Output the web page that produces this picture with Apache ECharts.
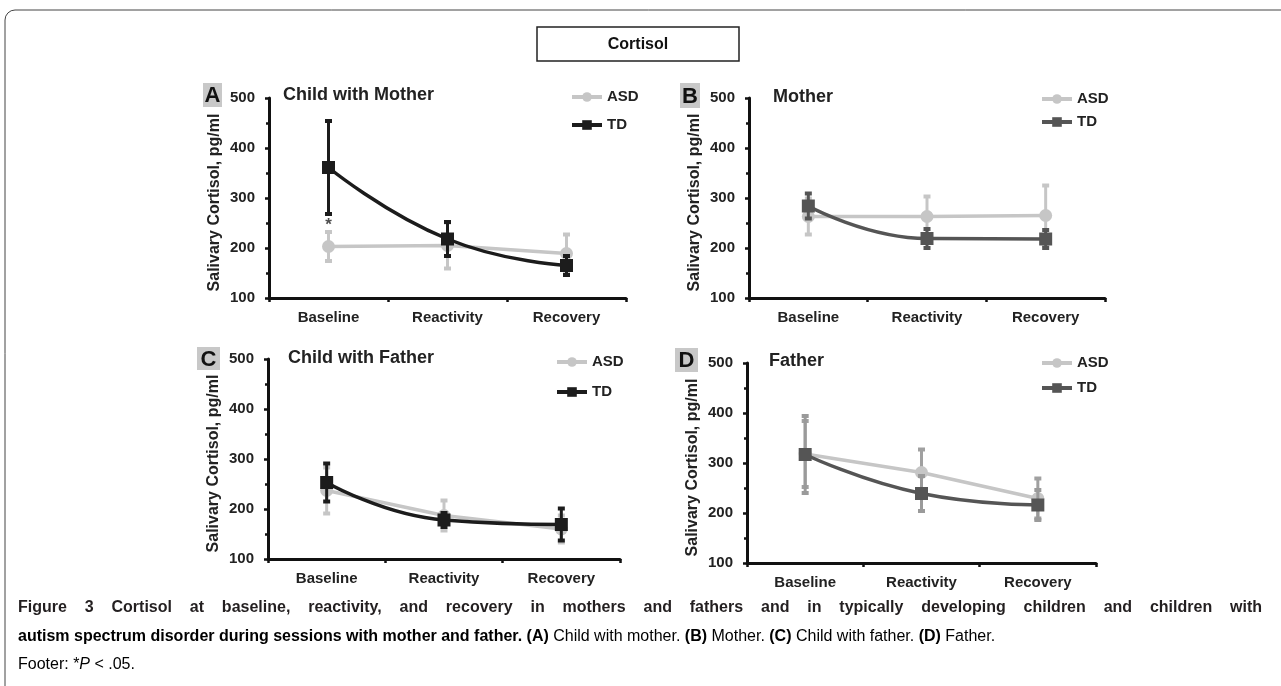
<!DOCTYPE html>
<html>
<head>
<meta charset="utf-8">
<script src="https://cdn.jsdelivr.net/npm/echarts@6/dist/echarts.min.js"></script>
<style>
html,body{margin:0;padding:0;background:#fff;}
#chart{width:1281px;height:686px;}
</style>
</head>
<body>
<div id="chart"></div>
<script>
// ---------- data ----------
const categories = ['Baseline', 'Reactivity', 'Recovery'];
const yTicks = [100, 200, 300, 400, 500];

// Panel A: Child with Mother
const A_ASD = [203, 205, 189];
const A_ASD_err = [29, 46, 38];
const A_TD = [361, 218, 165];
const A_TD_err = [93, 34, 19];
// Panel B: Mother
const B_ASD = [263, 263, 265];
const B_ASD_err = [36, 40, 60];
const B_TD = [284, 219, 218];
const B_TD_err = [25, 19, 18];
// Panel C: Child with Father
const C_ASD = [237, 187, 160];
const C_ASD_err = [46, 30, 27];
const C_TD = [253, 178, 169];
const C_TD_err = [38, 14, 32];
// Panel D: Father
const D_ASD = [318, 281, 229];
const D_ASD_err = [66, 46, 40];
const D_TD = [317, 239, 216];
const D_TD_err = [77, 35, 30];

// significance marker (panel A)
const sigIndex = [0];
const sigLabel = ['*'];

const panelTitles = ['Child with Mother', 'Mother', 'Child with Father', 'Father'];
const panelLetters = ['A', 'B', 'C', 'D'];
const yName = 'Salivary Cortisol, pg/ml';
const chartTitle = 'Cortisol';
const captionLine1 = 'Figure 3 Cortisol at baseline, reactivity, and recovery in mothers and fathers and in typically developing children and children with';

// ---------- style / layout ----------
const FF = '"Liberation Sans", Arial, Helvetica, sans-serif';
const grids = [
  {left: 269, top: 98, width: 357, height: 200},
  {left: 749, top: 98, width: 356, height: 200},
  {left: 268, top: 359, width: 352, height: 200},
  {left: 747, top: 363, width: 349, height: 200}
];
const ASD_C = '#c6c6c6';
const tdColors = ['#1c1c1c', '#555555', '#1c1c1c', '#555555'];
const asdErrColors = ['#c6c6c6', '#c6c6c6', '#c6c6c6', '#a0a0a0'];
const tdErrColors = ['#1c1c1c', '#555555', '#1c1c1c', '#9a9a9a'];

const panels = [
  {asd: A_ASD, asdE: A_ASD_err, td: A_TD, tdE: A_TD_err},
  {asd: B_ASD, asdE: B_ASD_err, td: B_TD, tdE: B_TD_err},
  {asd: C_ASD, asdE: C_ASD_err, td: C_TD, tdE: C_TD_err},
  {asd: D_ASD, asdE: D_ASD_err, td: D_TD, tdE: D_TD_err}
];

function errRender(color, capW) {
  return function (params, api) {
    const i = api.value(0), m = api.value(1), e = api.value(2);
    const p1 = api.coord([i, m + e]);
    const p2 = api.coord([i, m - e]);
    const st = {stroke: color, lineWidth: 3};
    const cs = {stroke: color, lineWidth: 4};
    return {
      type: 'group',
      children: [
        {type: 'line', shape: {x1: p1[0], y1: p1[1], x2: p2[0], y2: p2[1]}, style: st},
        {type: 'line', shape: {x1: p1[0] - capW / 2, y1: p1[1], x2: p1[0] + capW / 2, y2: p1[1]}, style: cs},
        {type: 'line', shape: {x1: p2[0] - capW / 2, y1: p2[1], x2: p2[0] + capW / 2, y2: p2[1]}, style: cs}
      ]
    };
  };
}

const xAxes = [], yAxes = [], series = [], legends = [];
const legendPos = [
  {left: 565, top: 84, gap: 12},
  {left: 1035, top: 86, gap: 7},
  {left: 550, top: 349, gap: 14},
  {left: 1035, top: 350, gap: 9}
];

panels.forEach((p, k) => {
  xAxes.push({
    type: 'category', gridIndex: k, data: categories, boundaryGap: true,
    axisLine: {lineStyle: {color: '#111', width: 3}},
    axisTick: {show: true, length: 4, lineStyle: {color: '#111', width: 2.5}},
    axisLabel: {color: '#222', fontFamily: FF, fontWeight: 'bold', fontSize: 15, margin: 12},
    splitLine: {show: false}
  });
  yAxes.push({
    type: 'value', gridIndex: k, min: yTicks[0], max: yTicks[yTicks.length - 1], interval: 100,
    name: yName, nameLocation: 'middle', nameGap: 46, nameRotate: 90,
    nameTextStyle: {color: '#222', fontFamily: FF, fontWeight: 'bold', fontSize: 16, padding: [0, 9, 0, 0]},
    axisLine: {show: true, lineStyle: {color: '#111', width: 3}},
    axisTick: {show: true, length: 4, lineStyle: {color: '#111', width: 2.5}},
    minorTick: {show: true, splitNumber: 2, length: 3, lineStyle: {color: '#111', width: 2.5}},
    axisLabel: {color: '#222', fontFamily: FF, fontWeight: 'bold', fontSize: 15, margin: 14},
    splitLine: {show: false}
  });
  const L = panelLetters[k];
  series.push({
    type: 'custom', name: 'ASDerr' + L, xAxisIndex: k, yAxisIndex: k,
    renderItem: errRender(asdErrColors[k], 7),
    data: p.asd.map((v, i) => [i, v, p.asdE[i]]), encode: {x: 0, y: 1}, z: 2, silent: true
  });
  series.push({
    type: 'line', name: 'ASD·' + L, xAxisIndex: k, yAxisIndex: k, data: p.asd,
    symbol: 'circle', symbolSize: 13, smooth: false,
    lineStyle: {color: ASD_C, width: 3.5}, itemStyle: {color: ASD_C}, z: 3
  });
  series.push({
    type: 'custom', name: 'TDerr' + L, xAxisIndex: k, yAxisIndex: k,
    renderItem: errRender(tdErrColors[k], 7),
    data: p.td.map((v, i) => [i, v, p.tdE[i]]), encode: {x: 0, y: 1}, z: 4, silent: true
  });
  series.push({
    type: 'line', name: 'TD·' + L, xAxisIndex: k, yAxisIndex: k, data: p.td,
    symbol: 'rect', symbolSize: 13, smooth: 0.5,
    lineStyle: {color: tdColors[k], width: 3.5}, itemStyle: {color: tdColors[k]}, z: 5
  });
  legends.push({
    data: ['ASD·' + L, 'TD·' + L], orient: 'vertical', left: legendPos[k].left, top: legendPos[k].top,
    itemWidth: 30, itemHeight: 12, itemGap: legendPos[k].gap, selectedMode: false,
    lineStyle: {width: 4},
    formatter: n => n.split('·')[0],
    textStyle: {color: '#222', fontFamily: FF, fontWeight: 'bold', fontSize: 15, lineHeight: 16}
  });
});

// significance star
series.push({
  type: 'scatter', xAxisIndex: 0, yAxisIndex: 0, symbolSize: 1,
  itemStyle: {color: 'rgba(0,0,0,0)'},
  data: sigIndex.map(i => [i, A_TD[i] - A_TD_err[i] - 22]),
  label: {show: true, position: 'inside', formatter: () => sigLabel[0], color: '#222',
    fontFamily: FF, fontWeight: 'bold', fontSize: 17},
  z: 6, silent: true
});

// ---------- graphics (frame, titles, letters, caption) ----------
const letterBoxes = [
  {x: 203, y: 83, w: 19, h: 24},
  {x: 680, y: 83, w: 20, h: 25},
  {x: 197, y: 347, w: 23, h: 23},
  {x: 675, y: 348, w: 23, h: 24}
];
const titlePos = [
  {x: 283, y: 95}, {x: 773, y: 97}, {x: 288, y: 358}, {x: 769, y: 361}
];
const graphic = [
  {type: 'rect', shape: {x: 5, y: 10, width: 1300, height: 720, r: 10},
   style: {fill: 'none', stroke: '#444', lineWidth: 1}, silent: true},
  {type: 'rect', shape: {x: 537, y: 27, width: 202, height: 34},
   style: {fill: '#fff', stroke: '#222', lineWidth: 1.5}, silent: true},
  {type: 'text', x: 638, y: 45, style: {text: chartTitle, fill: '#111', font: 'bold 16px ' + FF,
   align: 'center', verticalAlign: 'middle'}, silent: true}
];
letterBoxes.forEach((b, k) => {
  graphic.push({type: 'rect', shape: {x: b.x, y: b.y, width: b.w, height: b.h},
    style: {fill: '#c8c8c8'}, silent: true});
  graphic.push({type: 'text', x: b.x + b.w / 2, y: b.y + b.h / 2 + 1,
    style: {text: panelLetters[k], fill: '#111', font: 'bold 22px ' + FF, align: 'center', verticalAlign: 'middle'},
    silent: true});
  graphic.push({type: 'text', x: titlePos[k].x, y: titlePos[k].y,
    style: {text: panelTitles[k], fill: '#222', font: 'bold 18px ' + FF, align: 'left', verticalAlign: 'middle'},
    silent: true});
});

// caption
const capFont = '"Liberation Sans", Arial, sans-serif';
const capSize = 16;
const capLeft = 18, capRight = 1262;
const capY = [608, 637, 665];
// line 1: justified word by word
(function () {
  const ctx = document.createElement('canvas').getContext('2d');
  const font = 'bold ' + capSize + 'px ' + capFont;
  ctx.font = font;
  const words = captionLine1.split(' ');
  const widths = words.map(w => ctx.measureText(w).width);
  const total = widths.reduce((a, b) => a + b, 0);
  const gap = (capRight - capLeft - total) / (words.length - 1);
  let x = capLeft;
  words.forEach((w, i) => {
    graphic.push({type: 'text', x: x, y: capY[0],
      style: {text: w, font: font, fill: '#231f20', align: 'left', verticalAlign: 'middle'}, silent: true});
    x += widths[i] + gap;
  });
})();
const rich = {
  b: {fontFamily: capFont, fontWeight: 'bold', fontSize: capSize, color: '#231f20'},
  n: {fontFamily: capFont, fontWeight: 'normal', fontSize: capSize, color: '#555'},
  i: {fontFamily: capFont, fontStyle: 'italic', fontSize: capSize, color: '#555'}
};
const capLines = [
  '{b|autism spectrum disorder during sessions with mother and father. (A)}{n| Child with mother. }{b|(B)}{n| Mother. }{b|(C)}{n| Child with father. }{b|(D)}{n| Father.}',
  '{n|Footer: *}{i|P}{n| < .05.}'
];
capLines.forEach((t, i) => {
  graphic.push({type: 'text', x: capLeft, y: capY[i + 1],
    style: {text: t, rich: rich, align: 'left', verticalAlign: 'middle'}, silent: true});
});

const chart = echarts.init(document.getElementById('chart'));
chart.setOption({
  animation: false,
  backgroundColor: '#fff',
  grid: grids,
  xAxis: xAxes,
  yAxis: yAxes,
  legend: legends,
  series: series,
  graphic: graphic
});
</script>
</body>
</html>
